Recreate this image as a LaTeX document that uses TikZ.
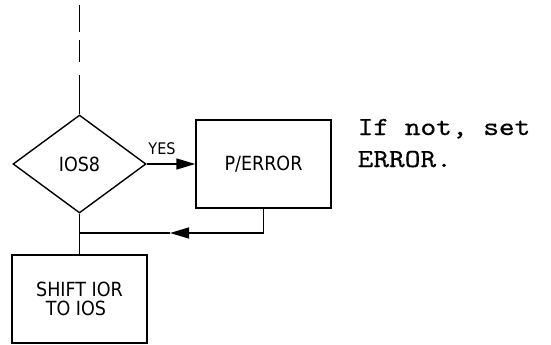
\documentclass[tikz,border=0pt]{standalone}
\usepackage{fontspec}
\newfontfamily\chartfont{DejaVu Sans Condensed}
\newfontfamily\typefont{lmmono10-regular.otf}[FakeStretch=1.15,FakeBold=0.4]
\usetikzlibrary{arrows.meta,shapes.geometric}
\tikzset{
  chartbox/.style={draw, minimum width=135pt, minimum height=88pt, inner sep=0pt,
    font=\chartfont\fontsize{19.5}{19}\selectfont, align=left},
  decision/.style={draw, shape=diamond, minimum width=133pt, minimum height=98pt,
    inner sep=0pt, font=\chartfont\fontsize{19.5}{19}\selectfont},
  flowtip/.style={-{Triangle[length=19pt,width=11pt]}},
  notetext/.style={font=\typefont\fontsize{26}{32}\selectfont, anchor=base west, inner sep=0pt}
}

\begin{document}
\begin{tikzpicture}[x=1pt,y=-1pt,line width=1.4pt]
\useasboundingbox (0,0) rectangle (551,345);
\node[decision] (ios8) at (79.5,164) {IOS8};
\node[chartbox] (perror) at (263.5,164) {P/ERROR};
\node[chartbox] (shift) at (79.5,299) {SHIFT IOR\\\hspace{0.5em}TO IOS};
\node[notetext] (note1) at (357,135) {If not, set};
\node[notetext] (note2) at (357,167) {ERROR.};
\coordinate (entry) at (79.5,5);
\coordinate (back) at (170,233);
\coordinate (merge) at (79.5,233);
\draw[dash pattern=on 27pt off 8pt on 22pt off 13pt on 60pt] (entry) -- (ios8.north);
\draw[flowtip] (ios8.east) -- (perror.west)
  node[midway, above=5pt, xshift=-9pt, font=\chartfont\fontsize{16}{16}\selectfont] (yes) {YES};
\draw[flowtip] (perror.south) |- (back);
\draw (back) -- (merge);
\draw (ios8.south) -- (shift.north);
\end{tikzpicture}
\end{document}
